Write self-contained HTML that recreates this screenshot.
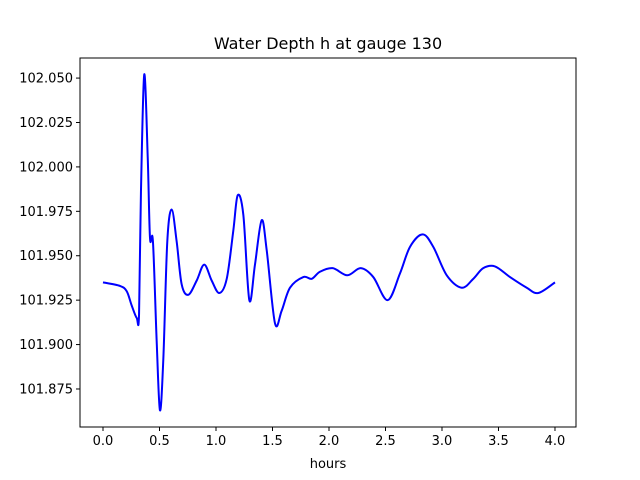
<!DOCTYPE html>
<html><head><meta charset="utf-8"><style>
body{margin:0;background:#fff;}
svg{display:block;font-family:"DejaVu Sans","Liberation Sans",sans-serif;}
</style></head><body>
<svg id="chart" width="640" height="480" xmlns="http://www.w3.org/2000/svg">
<rect width="640" height="480" fill="#fff"/>
<text x="328" y="49" text-anchor="middle" font-size="16">Water Depth h at gauge 130</text>
<text x="328" y="468" text-anchor="middle" font-size="13">hours</text>
<g id="ticks"></g>
<path id="line" fill="none" stroke="#0000ff" stroke-width="2"/>
<rect x="80" y="58" width="496" height="369" fill="none" stroke="#000" stroke-width="1"/>
</svg>
<script>
const hours=[0.0,0.150,0.210,0.254,0.298,0.319,0.336,0.365,0.396,0.416,0.442,0.475,0.504,0.534,0.569,0.608,0.652,0.696,0.755,0.829,0.896,0.962,1.029,1.095,1.153,1.192,1.242,1.295,1.345,1.404,1.449,1.522,1.581,1.655,1.773,1.847,1.920,2.033,2.162,2.281,2.392,2.519,2.628,2.717,2.829,2.923,3.042,3.174,3.277,3.365,3.469,3.602,3.750,3.852,4.0];
const depth=[101.935,101.933,101.930,101.922,101.915,101.917,101.986,102.052,102.005,101.960,101.958,101.902,101.863,101.892,101.958,101.976,101.958,101.934,101.928,101.936,101.945,101.936,101.929,101.937,101.964,101.984,101.973,101.925,101.945,101.970,101.953,101.912,101.919,101.932,101.938,101.937,101.941,101.943,101.939,101.943,101.938,101.925,101.940,101.955,101.962,101.955,101.939,101.932,101.937,101.943,101.944,101.938,101.932,101.929,101.935];
const xTicks=[0.0,0.5,1.0,1.5,2.0,2.5,3.0,3.5,4.0];
const xTickLabels=["0.0","0.5","1.0","1.5","2.0","2.5","3.0","3.5","4.0"];
const yTicks=[101.875,101.900,101.925,101.950,101.975,102.000,102.025,102.050];
const yTickLabels=["101.875","101.900","101.925","101.950","101.975","102.000","102.025","102.050"];

const X0=80,X1=576,Y0=58,Y1=427;
const xmin=-0.2035,xmax=4.186,ymin=101.8536,ymax=102.0613;
const sx=v=>X0+(v-xmin)/(xmax-xmin)*(X1-X0);
const sy=v=>Y1-(v-ymin)/(ymax-ymin)*(Y1-Y0);
const NS="http://www.w3.org/2000/svg";
const g=document.getElementById('ticks');
xTicks.forEach((t,i)=>{
  const x=sx(t);
  const l=document.createElementNS(NS,'line');
  
  
  l.setAttribute('x1',x);l.setAttribute('x2',x);l.setAttribute('y1',Y1);l.setAttribute('y2',Y1+4);l.setAttribute('stroke','#000');
  g.appendChild(l);
  const tx=document.createElementNS(NS,'text');
  
  
  tx.setAttribute('x',x);tx.setAttribute('y',Y1+18);tx.setAttribute('text-anchor','middle');tx.setAttribute('font-size','13');
  tx.textContent=xTickLabels[i];g.appendChild(tx);
});
yTicks.forEach((t,i)=>{
  const y=sy(t);
  const l=document.createElementNS(NS,'line');
  
  
  l.setAttribute('x1',X0-4);l.setAttribute('x2',X0);l.setAttribute('y1',y);l.setAttribute('y2',y);l.setAttribute('stroke','#000');
  g.appendChild(l);
  const tx=document.createElementNS(NS,'text');
  
  
  tx.setAttribute('x',X0-7);tx.setAttribute('y',y+4.5);tx.setAttribute('text-anchor','end');tx.setAttribute('font-size','13');
  tx.textContent=yTickLabels[i];g.appendChild(tx);
});
const P=hours.map((h,i)=>[sx(h),sy(depth[i])]);
let d='M'+P[0][0]+','+P[0][1];
for(let i=0;i<P.length-1;i++){
  const p0=P[i-1]||P[i],p1=P[i],p2=P[i+1],p3=P[i+2]||P[i+1];
  const c1=[p1[0]+(p2[0]-p0[0])/6,p1[1]+(p2[1]-p0[1])/6];
  const c2=[p2[0]-(p3[0]-p1[0])/6,p2[1]-(p3[1]-p1[1])/6];
  d+=' C'+c1+' '+c2+' '+p2;
}
document.getElementById('line').setAttribute('d',d);
</script>
</body></html>
